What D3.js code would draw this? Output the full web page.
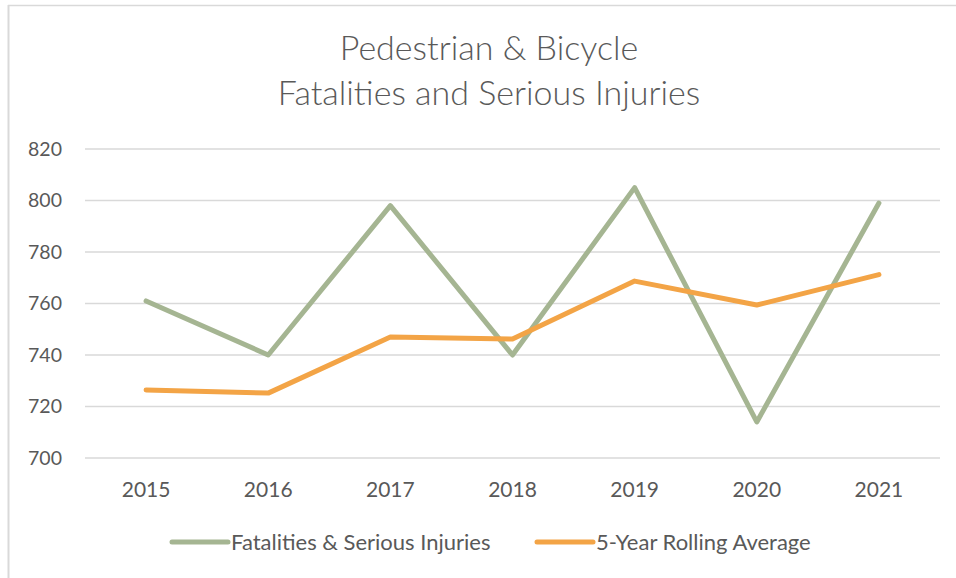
<!DOCTYPE html>
<html lang="en">
<head>
    <meta charset="UTF-8">
    <title>Pedestrian & Bicycle</title>
    <script src="https://d3js.org/d3.v7.min.js"></script>
    <style>
        body { margin: 0; background: #fff; }
        svg { display: block; font-family: Lato, "Open Sans", sans-serif; }
        .grid line { stroke: #d9d9d9; stroke-width: 1.3; }
        .tick-label { fill: #595959; font-size: 19.5px; }
        .year-label { fill: #595959; font-size: 21px; }
        .legend-label { fill: #595959; font-size: 22px; }
    </style>
</head>
<body>
    <svg></svg>

    <script>
        const years = ["2015", "2016", "2017", "2018", "2019", "2020", "2021"];
        const fatalities = [761, 740, 798, 740, 805, 714, 799];
        const rollingAvg = [726.4, 725.2, 747.0, 746.2, 768.7, 759.4, 771.2];
        const yTicks = [700, 720, 740, 760, 780, 800, 820];
        const seriesNames = ["Fatalities & Serious Injuries", "5-Year Rolling Average"];
        const seriesColors = ["#a5b592", "#f3a446"];

        const width = 956;
        const height = 578;

        const svg = d3.select('svg')
            .attr('width', width)
            .attr('height', height)
            .attr('viewBox', [0, 0, width, height]);

        const margin = {top: 149, bottom: 120, right: 16, left: 85};

        const x_scale = d3.scaleBand().domain(years).range([margin.left, width - margin.right]);
        const y_scale = d3.scaleLinear().domain([700, 820]).range([height - margin.bottom, margin.top]);

        // chart frame (only left and top edges show)
        svg.append('line').attr('x1', 8.5).attr('x2', 8.5).attr('y1', 5).attr('y2', height)
            .attr('stroke', '#d9d9d9').attr('stroke-width', 2);
        svg.append('line').attr('x1', 8).attr('x2', width).attr('y1', 5.5).attr('y2', 5.5)
            .attr('stroke', '#d9d9d9').attr('stroke-width', 1.5);

        // title
        const title = svg.append('text')
            .attr('text-anchor', 'middle')
            .attr('fill', '#595959')
            .style('font-size', '34px')
            .style('font-weight', 300);
        title.append('tspan').attr('x', 489).attr('y', 60).text('Pedestrian & Bicycle');
        title.append('tspan').attr('x', 489).attr('y', 105).text('Fatalities and Serious Injuries');

        // gridlines
        svg.append('g')
            .attr('class', 'grid')
            .selectAll('line')
            .data(yTicks)
            .join('line')
            .attr('x1', margin.left)
            .attr('x2', width - margin.right)
            .attr('y1', d => y_scale(d))
            .attr('y2', d => y_scale(d));

        // y axis labels
        svg.append('g')
            .selectAll('text')
            .data(yTicks)
            .join('text')
            .attr('class', 'tick-label')
            .attr('x', 62)
            .attr('y', d => y_scale(d))
            .attr('dy', '0.35em')
            .attr('text-anchor', 'end')
            .text(d => d);

        // x axis labels
        svg.append('g')
            .selectAll('text')
            .data(years)
            .join('text')
            .attr('class', 'year-label')
            .attr('x', d => x_scale(d) + x_scale.bandwidth() / 2)
            .attr('y', 497)
            .attr('text-anchor', 'middle')
            .text(d => d);

        const line = d3.line()
            .x((d, i) => x_scale(years[i]) + x_scale.bandwidth() / 2)
            .y(d => y_scale(d));

        svg.selectAll('.series')
            .data([fatalities, rollingAvg])
            .join('path')
            .attr('class', 'series')
            .attr('d', d => line(d))
            .attr('fill', 'none')
            .attr('stroke', (d, i) => seriesColors[i])
            .attr('stroke-width', 5)
            .attr('stroke-linejoin', 'round')
            .attr('stroke-linecap', 'round');

        // legend
        const legendX = [172, 537];
        const legend = svg.append('g')
            .selectAll('g')
            .data(seriesNames)
            .join('g')
            .attr('transform', (d, i) => `translate(${legendX[i]},542)`);
        legend.append('line')
            .attr('x1', 0).attr('x2', 56)
            .attr('stroke', (d, i) => seriesColors[i])
            .attr('stroke-width', 5)
            .attr('stroke-linecap', 'round');
        legend.append('text')
            .attr('class', 'legend-label')
            .attr('x', 59)
            .attr('dy', '0.35em')
            .text(d => d);
    </script>
</body>
</html>
